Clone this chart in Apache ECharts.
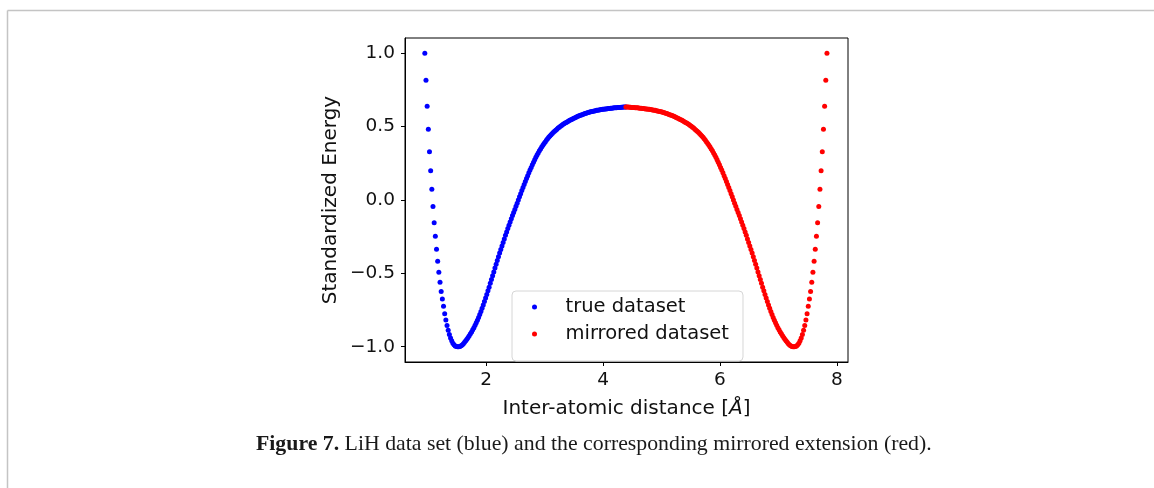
<!DOCTYPE html>
<html>
<head>
<meta charset="utf-8">
<script src="https://cdn.jsdelivr.net/npm/echarts@6/dist/echarts.min.js"></script>
<style>
html,body{margin:0;padding:0;background:#fff;}
#chart{width:1154px;height:488px;}
</style>
</head>
<body>
<div id="chart"></div>
<script>
// ---- data ----
const trueX = [0.95,0.97,0.99,1.01,1.03,1.05,1.07,1.09,1.11,1.13,1.15,1.17,1.19,1.21,1.23,1.25,1.27,1.29,1.31,1.33,1.35,1.37,1.39,1.41,1.43,1.45,1.47,1.49,1.51,1.53,1.55,1.57,1.59,1.61,1.63,1.65,1.67,1.69,1.71,1.73,1.75,1.77,1.79,1.81,1.83,1.85,1.87,1.89,1.91,1.93,1.95,1.97,1.99,2.01,2.03,2.05,2.07,2.09,2.11,2.13,2.15,2.17,2.19,2.21,2.23,2.25,2.27,2.29,2.31,2.33,2.35,2.37,2.39,2.41,2.43,2.45,2.47,2.49,2.51,2.53,2.55,2.57,2.59,2.61,2.63,2.65,2.67,2.69,2.71,2.73,2.75,2.77,2.79,2.81,2.83,2.85,2.87,2.89,2.91,2.93,2.95,2.97,2.99,3.01,3.03,3.05,3.07,3.09,3.11,3.13,3.15,3.17,3.19,3.21,3.23,3.25,3.27,3.29,3.31,3.33,3.35,3.37,3.39,3.41,3.43,3.45,3.47,3.49,3.51,3.53,3.55,3.57,3.59,3.61,3.63,3.65,3.67,3.69,3.71,3.73,3.75,3.77,3.79,3.81,3.83,3.85,3.87,3.89,3.91,3.93,3.95,3.97,3.99,4.01,4.03,4.05,4.07,4.09,4.11,4.13,4.15,4.17,4.19,4.21,4.23,4.25,4.27,4.29,4.31,4.33,4.35,4.37,4.39];
const trueY = [1.000,0.816,0.639,0.482,0.329,0.200,0.073,-0.045,-0.155,-0.247,-0.336,-0.418,-0.492,-0.561,-0.624,-0.674,-0.724,-0.775,-0.818,-0.855,-0.888,-0.916,-0.940,-0.960,-0.976,-0.987,-0.995,-0.999,-1.000,-1.000,-0.998,-0.994,-0.988,-0.980,-0.970,-0.960,-0.949,-0.937,-0.925,-0.912,-0.899,-0.885,-0.870,-0.854,-0.837,-0.819,-0.800,-0.780,-0.759,-0.737,-0.715,-0.692,-0.668,-0.644,-0.619,-0.594,-0.568,-0.542,-0.516,-0.490,-0.464,-0.438,-0.412,-0.387,-0.362,-0.337,-0.313,-0.289,-0.265,-0.241,-0.218,-0.195,-0.172,-0.150,-0.128,-0.106,-0.085,-0.064,-0.043,-0.022,0.000,0.022,0.043,0.064,0.085,0.106,0.126,0.146,0.166,0.185,0.204,0.222,0.240,0.258,0.275,0.292,0.307,0.321,0.335,0.348,0.361,0.373,0.385,0.396,0.407,0.417,0.427,0.436,0.445,0.453,0.461,0.469,0.476,0.483,0.490,0.496,0.502,0.508,0.514,0.519,0.524,0.529,0.534,0.538,0.543,0.547,0.551,0.555,0.559,0.563,0.567,0.570,0.574,0.577,0.580,0.583,0.586,0.589,0.592,0.594,0.597,0.599,0.601,0.603,0.605,0.607,0.609,0.611,0.612,0.614,0.615,0.617,0.618,0.619,0.620,0.621,0.622,0.623,0.624,0.625,0.626,0.627,0.628,0.629,0.629,0.630,0.631,0.631,0.632,0.632,0.633,0.633,0.634];
const mirroredX = [4.39,4.41,4.43,4.45,4.47,4.49,4.51,4.53,4.55,4.57,4.59,4.61,4.63,4.65,4.67,4.69,4.71,4.73,4.75,4.77,4.79,4.81,4.83,4.85,4.87,4.89,4.91,4.93,4.95,4.97,4.99,5.01,5.03,5.05,5.07,5.09,5.11,5.13,5.15,5.17,5.19,5.21,5.23,5.25,5.27,5.29,5.31,5.33,5.35,5.37,5.39,5.41,5.43,5.45,5.47,5.49,5.51,5.53,5.55,5.57,5.59,5.61,5.63,5.65,5.67,5.69,5.71,5.73,5.75,5.77,5.79,5.81,5.83,5.85,5.87,5.89,5.91,5.93,5.95,5.97,5.99,6.01,6.03,6.05,6.07,6.09,6.11,6.13,6.15,6.17,6.19,6.21,6.23,6.25,6.27,6.29,6.31,6.33,6.35,6.37,6.39,6.41,6.43,6.45,6.47,6.49,6.51,6.53,6.55,6.57,6.59,6.61,6.63,6.65,6.67,6.69,6.71,6.73,6.75,6.77,6.79,6.81,6.83,6.85,6.87,6.89,6.91,6.93,6.95,6.97,6.99,7.01,7.03,7.05,7.07,7.09,7.11,7.13,7.15,7.17,7.19,7.21,7.23,7.25,7.27,7.29,7.31,7.33,7.35,7.37,7.39,7.41,7.43,7.45,7.47,7.49,7.51,7.53,7.55,7.57,7.59,7.61,7.63,7.65,7.67,7.69,7.71,7.73,7.75,7.77,7.79,7.81,7.83];
const mirroredY = [0.634,0.633,0.633,0.632,0.632,0.631,0.631,0.630,0.629,0.629,0.628,0.627,0.626,0.625,0.624,0.623,0.622,0.621,0.620,0.619,0.618,0.617,0.615,0.614,0.612,0.611,0.609,0.607,0.605,0.603,0.601,0.599,0.597,0.594,0.592,0.589,0.586,0.583,0.580,0.577,0.574,0.570,0.567,0.563,0.559,0.555,0.551,0.547,0.543,0.538,0.534,0.529,0.524,0.519,0.514,0.508,0.502,0.496,0.490,0.483,0.476,0.469,0.461,0.453,0.445,0.436,0.427,0.417,0.407,0.396,0.385,0.373,0.361,0.348,0.335,0.321,0.307,0.292,0.275,0.258,0.240,0.222,0.204,0.185,0.166,0.146,0.126,0.106,0.085,0.064,0.043,0.022,0.000,-0.022,-0.043,-0.064,-0.085,-0.106,-0.128,-0.150,-0.172,-0.195,-0.218,-0.241,-0.265,-0.289,-0.313,-0.337,-0.362,-0.387,-0.412,-0.438,-0.464,-0.490,-0.516,-0.542,-0.568,-0.594,-0.619,-0.644,-0.668,-0.692,-0.715,-0.737,-0.759,-0.780,-0.800,-0.819,-0.837,-0.854,-0.870,-0.885,-0.899,-0.912,-0.925,-0.937,-0.949,-0.960,-0.970,-0.980,-0.988,-0.994,-0.998,-1.000,-1.000,-0.999,-0.995,-0.987,-0.976,-0.960,-0.940,-0.916,-0.888,-0.855,-0.818,-0.775,-0.724,-0.674,-0.624,-0.561,-0.492,-0.418,-0.336,-0.247,-0.155,-0.045,0.073,0.200,0.329,0.482,0.639,0.816,1.000];
const seriesNames = ['true dataset', 'mirrored dataset'];
const xTickValues = [2, 4, 6, 8];
const yTickValues = [-1.0, -0.5, 0.0, 0.5, 1.0];
const xAxisTitle = 'Inter-atomic distance [{i|Å}]';
const yAxisTitle = 'Standardized Energy';
const captionBold = 'Figure 7.';
const captionText = ' LiH data set (blue) and the corresponding mirrored extension (red).';

const zip = (xs, ys) => xs.map((x, i) => [x, ys[i]]);
const fmtY = v => (v < 0 ? '\u2212' : '') + Math.abs(v).toFixed(1);

const chart = echarts.init(document.getElementById('chart'), null, {renderer: 'canvas'});
const font = 'DejaVu Sans';
const ink = '#111111';
chart.setOption({
  animation: false,
  backgroundColor: '#ffffff',
  textStyle: {fontFamily: font},
  grid: {left: 405, top: 38, width: 443, height: 324, show: true, borderColor: '#000', borderWidth: 1, backgroundColor: 'transparent'},
  xAxis: {
    type: 'value', min: 0.611, max: 8.19,
    name: xAxisTitle, nameLocation: 'middle', nameGap: 37,
    nameTextStyle: {fontSize: 20, color: ink, fontFamily: font,
      rich: {i: {fontSize: 20, color: ink, fontFamily: font, fontStyle: 'italic'}}},
    axisLine: {show: true, onZero: false, lineStyle: {color: '#000', width: 1}},
    axisTick: {show: true, inside: false, length: 4, customValues: xTickValues, lineStyle: {color: '#000'}},
    axisLabel: {show: true, customValues: xTickValues, margin: 9, fontSize: 18.5, color: ink, fontFamily: font},
    splitLine: {show: false}
  },
  yAxis: {
    type: 'value', min: -1.104, max: 1.104,
    name: yAxisTitle, nameLocation: 'middle', nameGap: 64, nameRotate: 90,
    nameTextStyle: {fontSize: 20, color: ink, fontFamily: font},
    axisLine: {show: true, onZero: false, lineStyle: {color: '#000', width: 1}},
    axisTick: {show: true, inside: false, length: 4, customValues: yTickValues, lineStyle: {color: '#000'}},
    axisLabel: {show: true, customValues: yTickValues, margin: 10, fontSize: 18.5, color: ink, fontFamily: font, formatter: fmtY},
    splitLine: {show: false}
  },
  legend: {
    orient: 'vertical', left: 512, top: 291,
    data: seriesNames,
    icon: 'circle', itemWidth: 10, itemHeight: 5, itemGap: 5,
    padding: [5, 14, 16, 20],
    backgroundColor: '#ffffff', borderColor: '#d6d6d6', borderWidth: 1, borderRadius: 4,
    textStyle: {fontSize: 19.5, color: ink, fontFamily: font, lineHeight: 22, padding: [0, 0, 0, 21]}
  },
  series: [
    {name: seriesNames[0], type: 'scatter', data: zip(trueX, trueY), symbol: 'circle', symbolSize: 5, itemStyle: {color: '#0000ff', opacity: 1}},
    {name: seriesNames[1], type: 'scatter', data: zip(mirroredX, mirroredY), symbol: 'circle', symbolSize: 5, itemStyle: {color: '#ff0000', opacity: 1}}
  ],
  graphic: [
    {type: 'line', shape: {x1: 7.5, y1: 10.5, x2: 1154, y2: 10.5}, style: {stroke: '#c4c4c4', lineWidth: 1.5}},
    {type: 'line', shape: {x1: 7.5, y1: 10.5, x2: 7.5, y2: 488}, style: {stroke: '#c4c4c4', lineWidth: 1.5}},
    {type: 'text', left: 256, top: 433, style: {
      text: '{b|' + captionBold + '}{n|' + captionText + '}',
      rich: {
        b: {fontFamily: 'Liberation Serif', fontWeight: 'bold', fontSize: 21.8, fill: '#1a1a1a'},
        n: {fontFamily: 'Liberation Serif', fontSize: 21.8, fill: '#1a1a1a'}
      }
    }}
  ]
});
</script>
</body>
</html>
